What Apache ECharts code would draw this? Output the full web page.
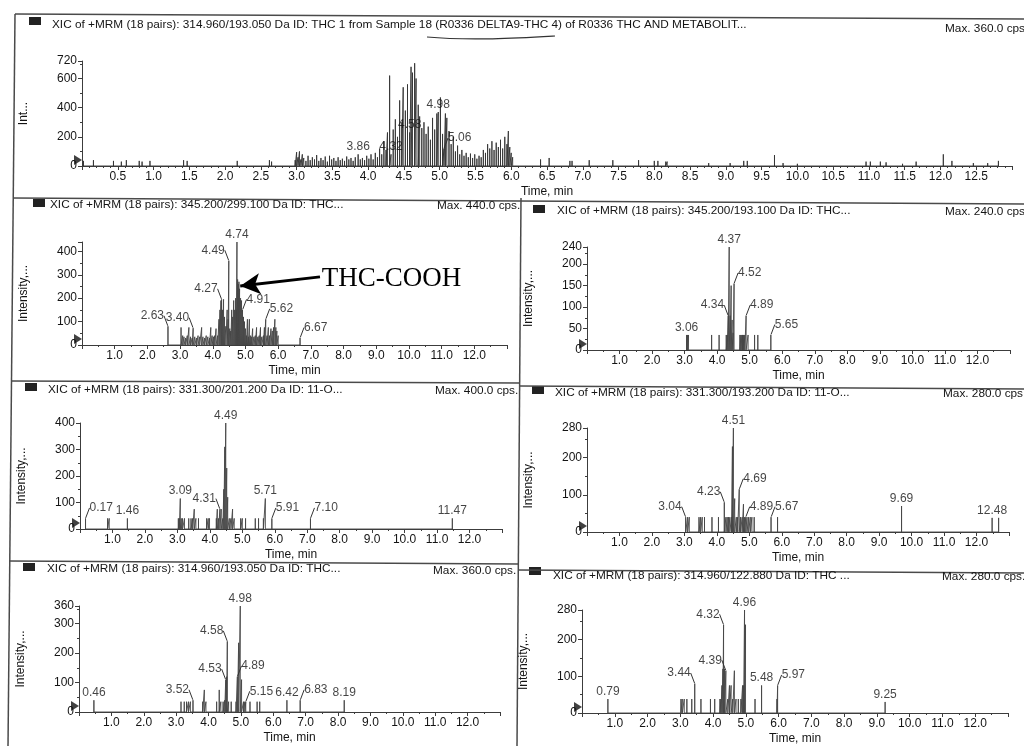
<!DOCTYPE html>
<html>
<head>
<meta charset="utf-8">
<script src="https://cdn.jsdelivr.net/npm/echarts@6/dist/echarts.min.js"></script>
<style>
html,body{margin:0;padding:0;background:#fff;}
#c{width:1024px;height:746px;}
</style>
</head>
<body>
<div id="c"></div>
<script>
// ---- panel headers ----
const panelTitles = [
  'XIC of +MRM (18 pairs): 314.960/193.050 Da ID: THC 1 from Sample 18 (R0336 DELTA9-THC 4) of R0336 THC AND METABOLIT...',
  'XIC of +MRM (18 pairs): 345.200/299.100 Da ID: THC...',
  'XIC of +MRM (18 pairs): 345.200/193.100 Da ID: THC...',
  'XIC of +MRM (18 pairs): 331.300/201.200 Da ID: 11-O...',
  'XIC of +MRM (18 pairs): 331.300/193.200 Da ID: 11-O...',
  'XIC of +MRM (18 pairs): 314.960/193.050 Da ID: THC...',
  'XIC of +MRM (18 pairs): 314.960/122.880 Da ID: THC ...'
];
const maxTexts = ['Max. 360.0 cps', 'Max. 440.0 cps.', 'Max. 240.0 cps.', 'Max. 400.0 cps.', 'Max. 280.0 cps.', 'Max. 360.0 cps.', 'Max. 280.0 cps.'];
const yNames = ['Int...', 'Intensity,...', 'Intensity,...', 'Intensity,...', 'Intensity,...', 'Intensity,...', 'Intensity,...'];
const xName = 'Time, min';

// ---- axis scales ----
const yMax = [720, 440, 240, 400, 280, 360, 280];
const yStep = [200, 100, 50, 100, 100, 100, 100];
const yShowMax = [true, false, true, true, true, true, true];
const xMax = [13.0, 13.0, 13.0, 13.0, 13.0, 13.0, 13.0];
const xStep = [0.5, 1, 1, 1, 1, 1, 1];

// ---- peaks: [retention time (min), intensity (cps)] ----
const peaksTop = [
  [0.02,35],[0.16,40],[0.44,35],[0.55,30],[0.62,40],[0.80,35],[0.84,30],[0.95,35],[1.42,40],[1.47,35],[2.17,35],[2.62,40],[2.65,30],
  [2.98,40],[3.00,95],[3.02,60],[3.04,100],[3.06,45],[3.08,80],[3.10,55],[3.13,35],[3.16,70],[3.19,40],[3.22,60],[3.25,45],[3.28,75],
  [3.31,35],[3.34,55],[3.37,40],[3.40,65],[3.43,30],[3.46,70],[3.49,45],[3.52,55],[3.55,35],[3.58,60],[3.61,40],[3.64,50],[3.67,35],
  [3.70,65],[3.73,45],[3.76,55],[3.79,35],[3.82,60],[3.86,80],[3.89,45],[3.92,55],[3.95,40],[3.98,70],[4.01,50],[4.04,80],[4.07,45],
  [4.10,90],[4.13,60],[4.16,120],[4.19,80],[4.22,170],[4.25,110],[4.27,230],[4.30,620],[4.32,80],[4.35,250],[4.38,320],[4.41,200],
  [4.44,450],[4.47,300],[4.49,540],[4.52,380],[4.55,560],[4.58,230],[4.60,680],[4.62,640],[4.65,705],[4.67,600],[4.70,420],[4.72,340],
  [4.75,260],[4.78,300],[4.81,220],[4.84,270],[4.87,180],[4.90,330],[4.93,250],[4.96,360],[4.98,370],[5.01,470],[5.04,220],[5.06,120],
  [5.08,360],[5.10,330],[5.13,240],[5.16,150],[5.19,200],[5.22,100],[5.25,140],[5.28,80],[5.31,110],[5.34,70],[5.37,90],[5.40,60],
  [5.43,85],[5.46,55],[5.49,80],[5.52,50],[5.55,70],[5.58,60],[5.61,110],[5.64,90],[5.67,150],[5.70,120],[5.73,170],[5.76,110],
  [5.79,160],[5.82,130],[5.85,180],[5.88,120],[5.91,200],[5.94,150],[5.96,240],[5.98,130],[6.00,90],[6.02,60],
  [6.41,45],[6.53,55],[6.82,35],[6.85,35],[7.09,40],[7.42,40],[7.78,40],[8.00,35],[8.05,35],[8.16,30],[8.18,30],[8.76,20],[9.06,20],
  [9.25,35],[9.30,35],[9.68,75],[9.80,20],[10.00,15],[10.96,30],[11.02,30],[11.16,30],[11.24,25],[11.47,15],[11.66,30],[12.04,80],
  [12.16,35],[12.46,20],[12.66,20],[12.81,35]
];
const peaks345_299 = [
  [2.63,80],[3.03,75],[3.08,40],[3.12,35],[3.17,30],[3.22,40],[3.27,75],[3.32,35],[3.37,30],[3.40,72],[3.45,35],[3.50,30],[3.55,40],
  [3.60,35],[3.66,75],[3.70,35],[3.75,30],[3.80,40],[3.85,35],[3.90,30],[3.94,75],[3.98,40],[4.02,35],[4.06,40],[4.10,70],[4.15,40],
  [4.19,110],[4.22,150],[4.25,190],[4.27,195],[4.30,150],[4.33,195],[4.36,120],[4.40,80],[4.44,150],[4.47,110],[4.49,360],[4.52,70],
  [4.55,60],[4.58,150],[4.61,120],[4.64,190],[4.67,150],[4.70,200],[4.72,150],[4.74,440],[4.76,280],[4.78,260],[4.80,270],[4.82,240],
  [4.85,200],[4.88,190],[4.91,150],[4.94,120],[4.97,100],[5.00,70],[5.03,40],[5.06,110],[5.09,35],[5.12,110],[5.15,40],[5.18,35],
  [5.22,70],[5.26,35],[5.30,40],[5.34,75],[5.38,35],[5.42,40],[5.46,75],[5.50,35],[5.55,40],[5.58,75],[5.62,110],[5.66,40],[5.70,75],
  [5.74,40],[5.78,70],[5.82,60],[5.86,75],[5.90,110],[5.93,75],[5.96,60],[6.00,40],[6.67,30]
];
const peaks345_193 = [
  [3.06,35],[3.09,35],[3.12,35],[3.83,35],[4.06,35],[4.28,35],[4.31,35],[4.34,80],[4.37,240],[4.40,80],[4.43,150],[4.46,70],[4.49,40],
  [4.52,155],[4.70,35],[4.73,35],[4.76,35],[4.78,35],[4.80,35],[4.82,35],[4.85,35],[4.89,80],[4.95,35],[5.15,35],[5.25,35],[5.65,35]
];
const peaks331_201 = [
  [0.17,40],[0.85,40],[0.90,40],[1.46,40],[3.03,40],[3.06,40],[3.09,115],[3.12,40],[3.16,40],[3.22,40],[3.35,40],[3.42,40],[3.47,40],
  [3.52,75],[3.57,40],[3.65,40],[3.90,40],[3.95,40],[3.99,40],[4.20,40],[4.23,75],[4.27,40],[4.31,75],[4.35,75],[4.40,40],[4.43,150],
  [4.46,310],[4.49,400],[4.52,230],[4.55,120],[4.60,40],[4.65,40],[4.70,75],[4.75,40],[4.95,40],[5.00,40],[5.10,40],[5.40,40],[5.50,40],
  [5.65,40],[5.71,115],[5.91,40],[7.10,40],[11.47,40]
];
const peaks331_193 = [
  [3.04,40],[3.10,40],[3.15,40],[3.45,40],[3.50,40],[3.55,40],[3.62,40],[3.85,40],[4.05,40],[4.23,80],[4.28,40],[4.32,40],[4.36,40],
  [4.40,40],[4.45,40],[4.48,230],[4.51,280],[4.55,90],[4.60,40],[4.64,40],[4.69,115],[4.73,40],[4.78,40],[4.82,75],[4.85,40],[4.89,40],
  [4.93,40],[4.98,40],[5.03,40],[5.08,40],[5.15,40],[5.67,40],[5.87,40],[9.69,70],[12.48,38],[12.68,38]
];
const peaks315_193 = [
  [0.46,40],[3.15,35],[3.25,35],[3.32,35],[3.38,35],[3.44,35],[3.52,40],[3.82,35],[3.87,75],[3.92,35],[4.25,35],[4.33,75],[4.38,35],
  [4.45,35],[4.50,40],[4.53,110],[4.56,120],[4.58,240],[4.62,35],[4.70,35],[4.85,35],[4.89,120],[4.93,235],[4.98,360],[5.02,110],
  [5.08,35],[5.12,35],[5.15,35],[5.28,35],[5.50,35],[5.58,35],[6.42,40],[6.83,40],[8.19,40]
];
const peaks315_123 = [
  [0.79,38],[3.02,38],[3.06,38],[3.12,38],[3.20,38],[3.35,38],[3.44,80],[3.63,38],[3.92,38],[4.05,38],[4.21,38],[4.24,38],[4.27,75],
  [4.30,120],[4.32,240],[4.35,120],[4.39,115],[4.45,38],[4.50,75],[4.55,75],[4.60,38],[4.65,115],[4.70,38],[4.77,38],[4.85,38],
  [4.90,75],[4.93,75],[4.96,280],[4.99,240],[5.28,38],[5.48,75],[5.95,38],[5.97,75],[9.25,30]
];

// ---- labelled retention times: [time, placement] (T above, L left, R right) ----
const labelsTop = [[3.86,'T'],[4.32,'T'],[4.58,'T'],[4.98,'T'],[5.06,'R']];
const labels345_299 = [[2.63,'L'],[3.40,'L'],[4.27,'L'],[4.49,'L'],[4.74,'T'],[4.91,'R'],[5.62,'R'],[6.67,'R']];
const labels345_193 = [[3.06,'T'],[4.34,'L'],[4.37,'T'],[4.52,'R'],[4.89,'R'],[5.65,'R']];
const labels331_201 = [[0.17,'R'],[1.46,'T'],[3.09,'T'],[4.31,'L'],[4.49,'T'],[5.71,'T'],[5.91,'R'],[7.10,'R'],[11.47,'T']];
const labels331_193 = [[3.04,'L'],[4.23,'L'],[4.51,'T'],[4.69,'R'],[4.89,'R'],[5.67,'R'],[9.69,'T'],[12.48,'T']];
const labels315_193 = [[0.46,'T'],[3.52,'L'],[4.53,'L'],[4.58,'L'],[4.89,'R'],[4.98,'T'],[5.15,'R'],[6.42,'T'],[6.83,'R'],[8.19,'T']];
const labels315_123 = [[0.79,'T'],[3.44,'L'],[4.32,'L'],[4.39,'L'],[4.96,'T'],[5.48,'T'],[5.97,'R'],[9.25,'T']];

// THC-COOH callout (data coordinates of the 345.2/299.1 trace)
const calloutText = 'THC-COOH';
const calloutFrom = [7.28, 291];
const calloutTo = [4.84, 252];

const allPeaks = [peaksTop, peaks345_299, peaks345_193, peaks331_201, peaks331_193, peaks315_193, peaks315_123];
const allLabels = [labelsTop, labels345_299, labels345_193, labels331_201, labels331_193, labels315_193, labels315_123];

// ---- layout (pixels) ----
const grids = [
  {left: 82,  top: 61,  width: 930, height: 105},
  {left: 82,  top: 242, width: 425, height: 103},
  {left: 587, top: 247, width: 423, height: 103},
  {left: 80,  top: 423, width: 422, height: 106},
  {left: 587, top: 428, width: 422, height: 104},
  {left: 79,  top: 606, width: 421, height: 106},
  {left: 582, top: 610, width: 426, height: 108}
];
const headers = [
  {sq: [29, 17], text: [52, 19], max: [945, 23]},
  {sq: [33, 199], text: [50, 199], max: [437, 200]},
  {sq: [533, 205], text: [557, 205], max: [945, 206]},
  {sq: [25, 383], text: [48, 384], max: [435, 385]},
  {sq: [532, 386], text: [555, 387], max: [943, 388]},
  {sq: [23, 563], text: [47, 563], max: [433, 565]},
  {sq: [529, 567], text: [553, 570], max: [942, 571]}
];

const FONT = 'Liberation Sans, Arial, sans-serif';
const INK = '#141414';
const AXIS = '#3c3c3c';

function sticks(peaks) {
  const out = [];
  peaks.slice().sort((a, b) => a[0] - b[0]).forEach(p => {
    out.push([p[0], 0], [p[0], p[1]], [p[0], 0]);
  });
  return out;
}
function heightAt(peaks, t) {
  const p = peaks.find(q => Math.abs(q[0] - t) < 1e-6);
  return p ? p[1] : 0;
}

const option = {
  animation: false,
  backgroundColor: '#ffffff',
  title: [], grid: [], xAxis: [], yAxis: [], series: [], graphic: []
};

grids.forEach((g, i) => {
  option.grid.push(Object.assign({containLabel: false}, g));
  option.title.push({
    text: panelTitles[i], left: headers[i].text[0], top: headers[i].text[1], padding: 0,
    textStyle: {fontFamily: FONT, fontSize: 11.8, fontWeight: 'normal', color: INK}
  });
  option.title.push({
    text: maxTexts[i], left: headers[i].max[0], top: headers[i].max[1], padding: 0,
    textStyle: {fontFamily: FONT, fontSize: 11.8, fontWeight: 'normal', color: INK}
  });
  option.graphic.push({
    type: 'rect', shape: {x: headers[i].sq[0], y: headers[i].sq[1], width: 12, height: 8},
    style: {fill: '#222'}, silent: true
  });

  option.xAxis.push({
    type: 'value', gridIndex: i, min: 0, max: xMax[i], interval: xStep[i],
    name: xName, nameLocation: 'middle', nameGap: 20,
    nameTextStyle: {fontFamily: FONT, fontSize: 12, color: INK},
    axisLine: {onZero: false, lineStyle: {color: AXIS, width: 1}},
    axisTick: {show: true, length: 4, lineStyle: {color: AXIS}},
    minorTick: {show: true, splitNumber: i === 0 ? 5 : 2, length: 2, lineStyle: {color: AXIS}},
    splitLine: {show: false},
    axisLabel: {
      fontFamily: FONT, fontSize: 12, color: INK, margin: 5, showMinLabel: false, showMaxLabel: false,
      formatter: v => (v <= 0 || v >= 12.95) ? '' : v.toFixed(1)
    }
  });
  option.yAxis.push({
    type: 'value', gridIndex: i, min: 0, max: yMax[i], interval: yStep[i],
    name: yNames[i], nameLocation: 'middle', nameGap: 52, nameRotate: 90,
    nameTextStyle: {fontFamily: FONT, fontSize: 12, color: INK},
    axisLine: {show: true, lineStyle: {color: AXIS, width: 1}},
    axisTick: {show: true, length: 4, lineStyle: {color: AXIS}},
    minorTick: {show: true, splitNumber: 2, length: 2, lineStyle: {color: AXIS}},
    splitLine: {show: false},
    axisLabel: {fontFamily: FONT, fontSize: 12, color: INK, margin: 5, showMaxLabel: yShowMax[i]}
  });

  // the chromatogram trace
  const trace = {
    type: 'line', xAxisIndex: i, yAxisIndex: i, data: sticks(allPeaks[i]),
    showSymbol: false, symbol: 'none', silent: true,
    lineStyle: {color: i === 0 ? '#333333' : '#454545', width: 1, opacity: 0.9}
  };
  if (i === 1) {
    trace.markLine = {
      silent: true, symbol: ['none', 'arrow'], symbolSize: [16, 20], animation: false,
      lineStyle: {color: '#000', width: 3, type: 'solid'}, label: {show: false},
      data: [[{coord: calloutFrom}, {coord: calloutTo}]]
    };
    trace.markPoint = {
      silent: true, symbol: 'circle', symbolSize: 0, animation: false,
      data: [{coord: [calloutFrom[0] + 0.05, calloutFrom[1] - 10],
        label: {show: true, position: 'right', distance: 0, formatter: calloutText,
          fontFamily: 'Liberation Serif, Times New Roman, serif', fontSize: 27, color: '#000'}}]
    };
  }
  option.series.push(trace);

  // retention-time labels
  const kinds = allLabels[i].map(l => l[1]);
  option.series.push({
    type: 'scatter', xAxisIndex: i, yAxisIndex: i, silent: true, clip: false,
    symbolSize: 1, itemStyle: {color: 'rgba(0,0,0,0)'},
    data: allLabels[i].map(l => ({
      value: [l[0], heightAt(allPeaks[i], l[0])],
      name: l[0].toFixed(2),
      labelLine: {show: l[1] !== 'T'}
    })),
    label: {show: true, position: 'top', distance: 1, formatter: p => p.name,
      fontFamily: FONT, fontSize: 12, color: INK},
    labelLine: {show: true, length2: 0, lineStyle: {color: '#333', width: 1}},
    labelLayout: params => {
      const k = kinds[params.dataIndex];
      if (k === 'L') return {dx: -(params.labelRect.width / 2 + 4), dy: -3};
      if (k === 'R') return {dx: params.labelRect.width / 2 + 4, dy: -3};
      return {};
    },
    z: 5
  });

  // baseline marker at the start of each trace
  option.series.push({
    type: 'scatter', xAxisIndex: i, yAxisIndex: i, silent: true, clip: false,
    data: [[0, 0]], symbol: 'triangle', symbolRotate: -90, symbolSize: [10, 8],
    symbolOffset: [-4, -6], itemStyle: {color: '#111'}, z: 6
  });
});

// panel frames
const frame = [
  [[15, 14], [1024, 19]],
  [[15, 14], [8, 746]],
  [[13, 198], [1024, 204]],
  [[521, 198], [517, 746]],
  [[11, 381], [520, 383]],
  [[520, 386], [1024, 389]],
  [[9, 561], [518, 564]],
  [[518, 570], [1024, 573]]
];
frame.forEach(f => option.graphic.push({
  type: 'line', silent: true,
  shape: {x1: f[0][0], y1: f[0][1], x2: f[1][0], y2: f[1][1]},
  style: {stroke: '#4a4a4a', lineWidth: 1.5}
}));
// pen underline in the first header
option.graphic.push({
  type: 'bezierCurve', silent: true,
  shape: {x1: 427, y1: 37, cpx1: 470, cpy1: 41, cpx2: 520, cpy2: 38, x2: 555, y2: 36},
  style: {stroke: '#333', lineWidth: 1.2, fill: null}
});

const chart = echarts.init(document.getElementById('c'), null, {renderer: 'canvas'});
chart.setOption(option);
</script>
</body>
</html>
